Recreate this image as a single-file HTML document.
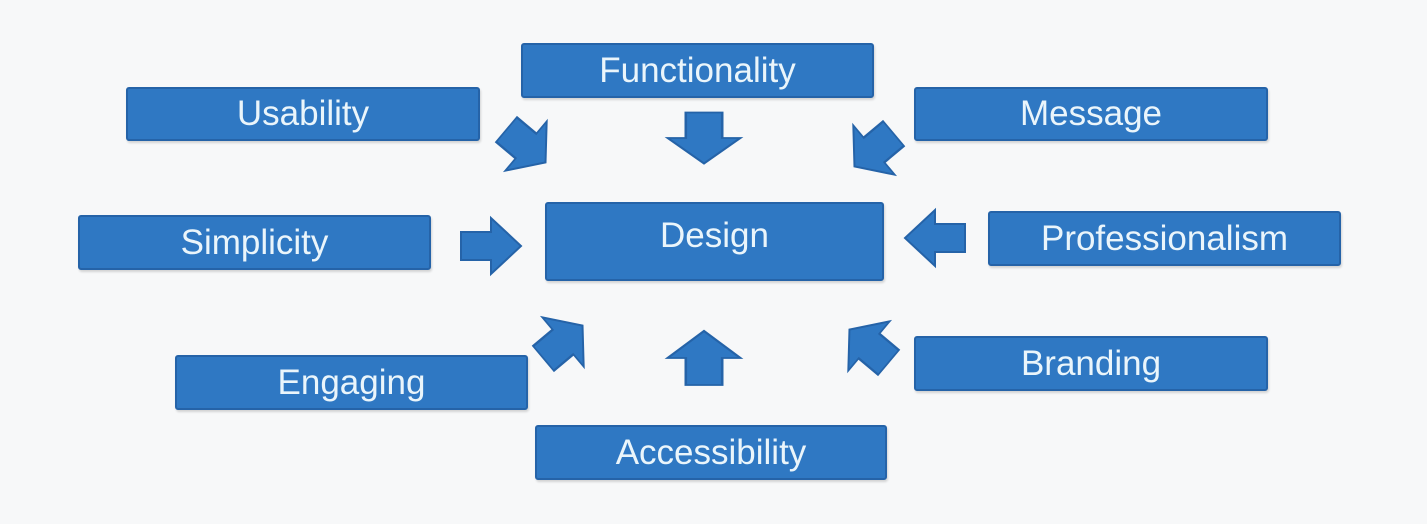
<!DOCTYPE html>
<html><head><style>
body{margin:0;width:1427px;height:524px;background:#f7f8f9;position:relative;overflow:hidden;font-family:"Liberation Sans",sans-serif}
.b{position:absolute;background:#2f78c3;border:2px solid #2563a8;box-sizing:border-box;color:#eaf5fb;font-size:35px;display:flex;align-items:center;justify-content:center;border-radius:3px;box-shadow:1px 2px 2px rgba(0,0,0,.15)}
svg{position:absolute;left:0;top:0}
</style></head><body>
<div class="b" style="left:521px;top:43px;width:353px;height:55px">Functionality</div>
<div class="b" style="left:126px;top:87px;width:354px;height:54px">Usability</div>
<div class="b" style="left:914px;top:87px;width:354px;height:54px">Message</div>
<div class="b" style="left:78px;top:215px;width:353px;height:55px">Simplicity</div>
<div class="b" style="left:545px;top:202px;width:339px;height:79px;padding-bottom:12px">Design</div>
<div class="b" style="left:988px;top:211px;width:353px;height:55px">Professionalism</div>
<div class="b" style="left:175px;top:355px;width:353px;height:55px">Engaging</div>
<div class="b" style="left:914px;top:336px;width:354px;height:55px">Branding</div>
<div class="b" style="left:535px;top:425px;width:352px;height:55px">Accessibility</div>
<svg width="1427" height="524">
<defs><path id="a" d="M-30,-14 L0,-14 L0,-28 L30,0 L0,28 L0,14 L-30,14 Z" fill="#2f78c3" stroke="#2563a8" stroke-width="2"/></defs>
<use href="#a" transform="translate(491,246)"/>
<use href="#a" transform="translate(935,238) rotate(180)"/>
<use href="#a" transform="translate(704,138) rotate(90) scale(0.85,1.3)"/>
<use href="#a" transform="translate(704,358) rotate(-90) scale(0.9,1.3)"/>
<use href="#a" transform="translate(526,146) rotate(40) scale(0.85,1.15)"/>
<use href="#a" transform="translate(874,150) rotate(140) scale(0.85,1.15)"/>
<use href="#a" transform="translate(563,342) rotate(-40) scale(0.85,1.15)"/>
<use href="#a" transform="translate(869,346) rotate(-140) scale(0.85,1.15)"/>
</svg>
</body></html>
